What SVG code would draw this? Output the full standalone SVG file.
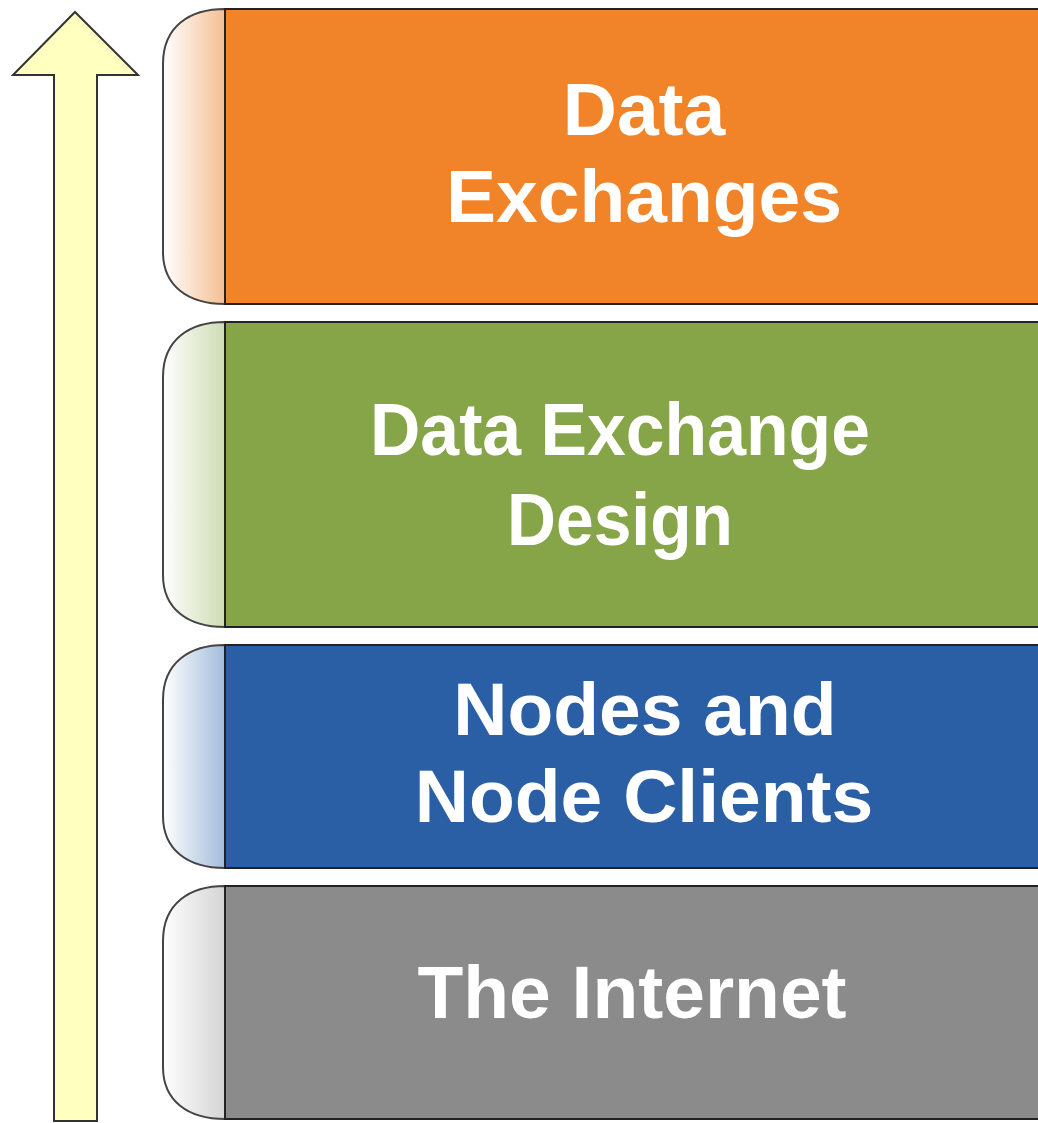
<svg xmlns="http://www.w3.org/2000/svg" width="1038" height="1123" viewBox="0 0 1038 1123">
  <style>
    .tab { stroke: #444; stroke-width: 2; }
    .bar { stroke: #222; stroke-width: 2; }
    .label { font-family: "Liberation Sans", Arial, sans-serif; font-weight: bold; font-size: 75px; fill: #ffffff; text-anchor: middle; }
  </style>
  <defs>
    <linearGradient id="gOrange" x1="0" y1="0" x2="1" y2="0">
      <stop offset="0" stop-color="#ffffff"/>
      <stop offset="1" stop-color="#f5bf93"/>
    </linearGradient>
    <linearGradient id="gGreen" x1="0" y1="0" x2="1" y2="0">
      <stop offset="0" stop-color="#ffffff"/>
      <stop offset="1" stop-color="#cfdcb4"/>
    </linearGradient>
    <linearGradient id="gBlue" x1="0" y1="0" x2="1" y2="0">
      <stop offset="0" stop-color="#ffffff"/>
      <stop offset="1" stop-color="#a3bcdc"/>
    </linearGradient>
    <linearGradient id="gGray" x1="0" y1="0" x2="1" y2="0">
      <stop offset="0" stop-color="#ffffff"/>
      <stop offset="1" stop-color="#d4d4d4"/>
    </linearGradient>
  </defs>

  <!-- upward arrow on the left -->
  <g id="arrow">
    <polygon points="75,12 138,75 97,75 97,1121 54,1121 54,75 13,75" fill="#ffffc0" stroke="#333" stroke-width="2" stroke-linejoin="miter"/>
  </g>

  <!-- layer: Data Exchanges -->
  <g id="layer-data-exchanges">
    <path class="tab" d="M225,9 C190,9 163,26 163,64 L163,252 C163,286 188,304 225,304 Z" fill="url(#gOrange)"/>
    <rect class="bar" x="225" y="9" width="815" height="295" fill="#f18428"/>
    <text class="label" x="644" y="135">Data</text>
    <text class="label" x="644" y="222">Exchanges</text>
  </g>

  <!-- layer: Data Exchange Design -->
  <g id="layer-exchange-design">
    <path class="tab" d="M225,322 C190,322 163,339 163,377 L163,575 C163,609 188,627 225,627 Z" fill="url(#gGreen)"/>
    <rect class="bar" x="225" y="322" width="815" height="305" fill="#86a448"/>
    <text class="label" x="620" y="455" textLength="500" lengthAdjust="spacingAndGlyphs">Data Exchange</text>
    <text class="label" x="620" y="545" textLength="226" lengthAdjust="spacingAndGlyphs">Design</text>
  </g>

  <!-- layer: Nodes and Node Clients -->
  <g id="layer-nodes">
    <path class="tab" d="M225,645 C190,645 163,662 163,700 L163,816 C163,850 188,868 225,868 Z" fill="url(#gBlue)"/>
    <rect class="bar" x="225" y="645" width="815" height="223" fill="#2a5fa6"/>
    <text class="label" x="645" y="735">Nodes and</text>
    <text class="label" x="644" y="822">Node Clients</text>
  </g>

  <!-- layer: The Internet -->
  <g id="layer-internet">
    <path class="tab" d="M225,886 C190,886 163,903 163,941 L163,1067 C163,1101 188,1119 225,1119 Z" fill="url(#gGray)"/>
    <rect class="bar" x="225" y="886" width="815" height="233" fill="#8b8b8b"/>
    <text class="label" x="632" y="1018">The Internet</text>
  </g>
</svg>
